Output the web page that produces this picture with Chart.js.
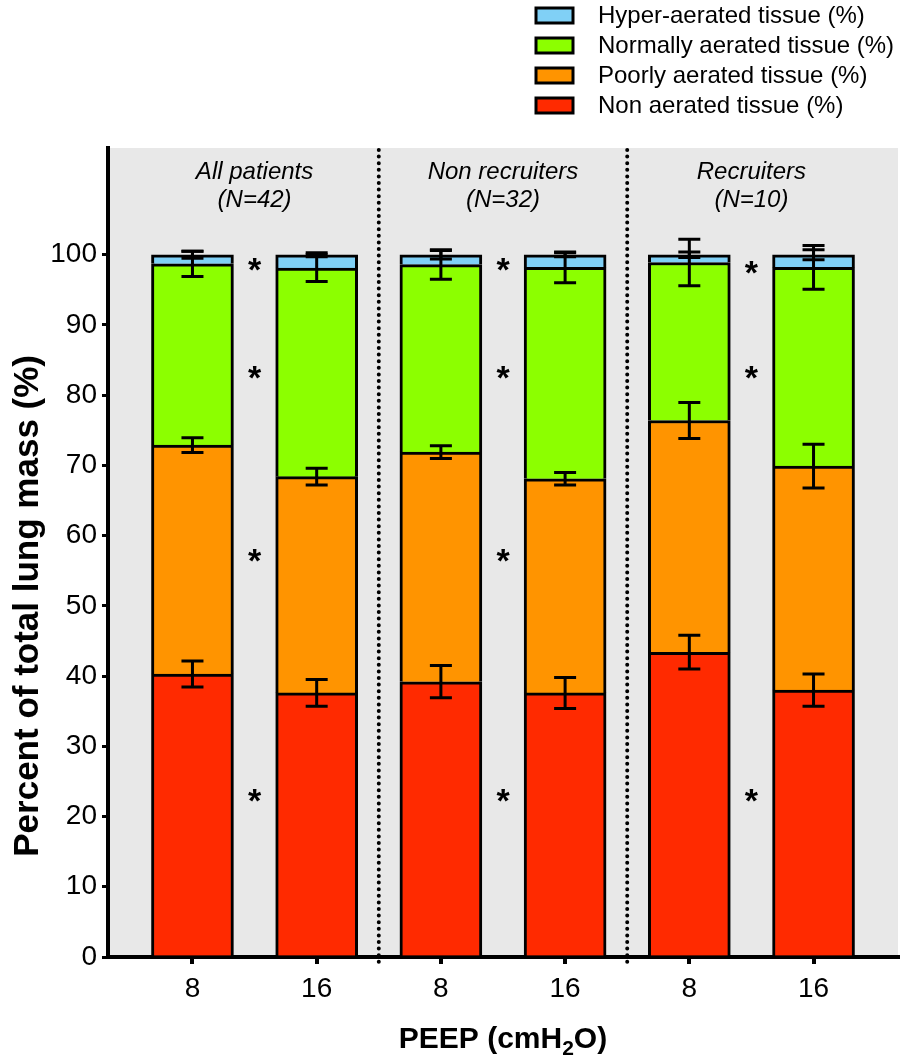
<!DOCTYPE html>
<html>
<head>
<meta charset="utf-8">
<script src="https://cdn.jsdelivr.net/npm/chart.js@4.4.1/dist/chart.umd.min.js"></script>
<style>
  html, body { margin: 0; padding: 0; background: #fff; }
  #wrap { position: relative; width: 904px; height: 1064px; }
</style>
</head>
<body>
<div id="wrap"><canvas id="chart" width="904" height="1064"></canvas></div>
<script>
// bar positions on the x axis and their PEEP labels
const barPositions = [0, 1, 2, 3, 4, 5];
const peepLabels = ['8', '16', '8', '16', '8', '16'];

// group headers
const groupTitles = [['All patients', '(N=42)'], ['Non recruiters', '(N=32)'], ['Recruiters', '(N=10)']];
const groupCenters = [0.5, 2.5, 4.5];
const separatorPositions = [1.5, 3.5];

// series (mean % of lung mass) and SD
const nonAerated = [40.3, 37.6, 39.2, 37.6, 43.4, 38.0];
const nonAeratedSD = [1.85, 1.9, 2.3, 2.2, 2.4, 2.3];
const poorlyAerated = [32.6, 30.8, 32.7, 30.5, 33.0, 31.9];
const poorlyAeratedSD = [1.05, 1.2, 0.9, 0.9, 2.55, 3.1];
const normallyAerated = [25.8, 29.7, 26.7, 30.1, 22.5, 28.3];
const normallyAeratedSD = [1.8, 1.9, 2.1, 2.2, 3.3, 3.1];
const hyperAerated = [1.3, 1.9, 1.4, 1.8, 1.1, 1.8];
const hyperAeratedSD = [0.5, 0.3, 0.6, 0.3, 0.4, 0.7];

// significance marks
const starX = [0.5, 0.5, 0.5, 0.5, 2.5, 2.5, 2.5, 2.5, 4.5, 4.5, 4.5];
const starY = [99.0, 83.6, 57.5, 23.4, 99.0, 83.6, 57.5, 23.4, 98.5, 83.6, 23.4];

const yTicks = [0, 10, 20, 30, 40, 50, 60, 70, 80, 90, 100];

const FONT = 'Arial, "Liberation Sans", Helvetica, sans-serif';

function toPoints(values) {
    return values.map((v, i) => ({ x: barPositions[i], y: v }));
}

function makeSet(label, values, sd, color) {
    return {
        label: label,
        data: toPoints(values),
        sd: sd,
        backgroundColor: color,
        borderColor: '#000',
        borderWidth: { top: 3, left: 3, right: 3, bottom: 0 },
        borderSkipped: false,
        barThickness: 82
    };
}

const datasets = [
    makeSet('Non aerated tissue (%)', nonAerated, nonAeratedSD, '#ff2a00'),
    makeSet('Poorly aerated tissue (%)', poorlyAerated, poorlyAeratedSD, '#ff9400'),
    makeSet('Normally aerated tissue (%)', normallyAerated, normallyAeratedSD, '#8cff00'),
    makeSet('Hyper-aerated tissue (%)', hyperAerated, hyperAeratedSD, '#80d0f6')
];

const decor = {
    id: 'decor',
    beforeDraw(chart) {
        const { ctx, chartArea: a } = chart;
        ctx.save();
        ctx.fillStyle = '#e8e8e8';
        ctx.fillRect(a.left, a.top, a.right - a.left, a.bottom - a.top);
        ctx.restore();
    },
    beforeDatasetsDraw(chart) {
        const { ctx, chartArea: a, scales } = chart;
        // dotted group separators
        ctx.save();
        ctx.strokeStyle = '#000';
        ctx.lineWidth = 4;
        ctx.lineCap = 'round';
        ctx.setLineDash([0, 6.6]);
        separatorPositions.forEach(p => {
            const x = scales.x.getPixelForValue(p);
            ctx.beginPath();
            ctx.moveTo(x, a.top + 2);
            ctx.lineTo(x, a.bottom + 7);
            ctx.stroke();
        });
        ctx.restore();
    },
    afterDatasetsDraw(chart) {
        const { ctx, chartArea: a, scales } = chart;
        ctx.save();
        // error bars
        ctx.strokeStyle = '#000';
        ctx.lineWidth = 3;
        const cum = barPositions.map(() => 0);
        chart.data.datasets.forEach(ds => {
            ds.data.forEach((pt, i) => {
                cum[i] += pt.y;
                const x = scales.x.getPixelForValue(pt.x);
                const yHi = scales.y.getPixelForValue(cum[i] + ds.sd[i]);
                const yLo = scales.y.getPixelForValue(cum[i] - ds.sd[i]);
                ctx.beginPath();
                ctx.moveTo(x, yHi); ctx.lineTo(x, yLo);
                ctx.moveTo(x - 11, yHi); ctx.lineTo(x + 11, yHi);
                ctx.moveTo(x - 11, yLo); ctx.lineTo(x + 11, yLo);
                ctx.stroke();
            });
        });
        // asterisks
        ctx.fillStyle = '#000';
        ctx.font = 'bold 34px ' + FONT;
        ctx.textAlign = 'center';
        ctx.textBaseline = 'alphabetic';
        starX.forEach((sx, i) => {
            ctx.fillText('*', scales.x.getPixelForValue(sx), scales.y.getPixelForValue(starY[i]) + 19);
        });
        // group titles
        ctx.font = 'italic 24px ' + FONT;
        ctx.textBaseline = 'middle';
        groupTitles.forEach((lines, g) => {
            const x = scales.x.getPixelForValue(groupCenters[g]);
            ctx.fillText(lines[0], x, a.top + 24);
            ctx.fillText(lines[1], x, a.top + 52);
        });
        ctx.restore();
    },
    afterDraw(chart) {
        const { ctx, scales } = chart;
        ctx.save();
        // legend, top series first
        ctx.font = '24px ' + FONT;
        ctx.textBaseline = 'middle';
        ctx.textAlign = 'left';
        const items = chart.data.datasets.slice().reverse();
        items.forEach((ds, i) => {
            const cy = 15 + i * 30;
            ctx.fillStyle = ds.backgroundColor;
            ctx.fillRect(536, cy - 7, 37, 15);
            ctx.strokeStyle = '#000';
            ctx.lineWidth = 3;
            ctx.strokeRect(536, cy - 7, 37, 15);
            ctx.fillStyle = '#000';
            ctx.fillText(ds.label, 598, cy + 1);
        });
        // y title
        const yMid = (scales.y.getPixelForValue(0) + scales.y.getPixelForValue(100)) / 2;
        ctx.font = 'bold 35px ' + FONT;
        ctx.textAlign = 'center';
        ctx.save();
        ctx.translate(28, yMid);
        ctx.rotate(-Math.PI / 2);
        ctx.fillText('Percent of total lung mass (%)', 0, 0);
        ctx.restore();
        // x title with subscript
        const xMid = (chart.chartArea.left + chart.chartArea.right) / 2;
        const big = 'bold 30px ' + FONT, small = 'bold 21px ' + FONT;
        const parts = [['PEEP (cmH', big, 0], ['2', small, 7], ['O)', big, 0]];
        let total = 0;
        parts.forEach(p => { ctx.font = p[1]; total += ctx.measureText(p[0]).width; });
        let x = xMid - total / 2;
        ctx.textAlign = 'left';
        ctx.textBaseline = 'alphabetic';
        parts.forEach(p => {
            ctx.font = p[1];
            ctx.fillText(p[0], x, 1048 + p[2]);
            x += ctx.measureText(p[0]).width;
        });
        ctx.restore();
    }
};

new Chart(document.getElementById('chart'), {
    type: 'bar',
    data: { datasets: datasets },
    options: {
        responsive: false,
        animation: false,
        layout: { padding: { top: 148, right: 6, left: 0, bottom: 0 } },
        plugins: { legend: { display: false }, tooltip: { enabled: false } },
        scales: {
            x: {
                type: 'linear',
                stacked: true,
                offset: false,
                min: -0.68,
                max: 5.68,
                afterBuildTicks: scale => { scale.ticks = barPositions.map(v => ({ value: v })); },
                afterFit: scale => { scale.height = 107; },
                grid: { display: true, offset: false, drawOnChartArea: false, drawTicks: true, tickLength: 7, color: '#000', lineWidth: 4 },
                border: { display: true, color: '#000', width: 4 },
                ticks: {
                    color: '#000',
                    font: { family: FONT, size: 28 },
                    padding: 8,
                    maxRotation: 0,
                    callback: v => peepLabels[v] ?? ''
                }
            },
            y: {
                stacked: true,
                min: 0,
                max: 115.2,
                afterBuildTicks: scale => { scale.ticks = yTicks.map(v => ({ value: v })); },
                afterFit: scale => { scale.width = 108; },
                grid: { display: true, drawOnChartArea: false, drawTicks: true, tickLength: 6, color: '#000', lineWidth: 3 },
                border: { display: true, color: '#000', width: 4 },
                ticks: {
                    color: '#000',
                    font: { family: FONT, size: 28 },
                    padding: 5
                }
            }
        }
    },
    plugins: [decor]
});
</script>
</body>
</html>
